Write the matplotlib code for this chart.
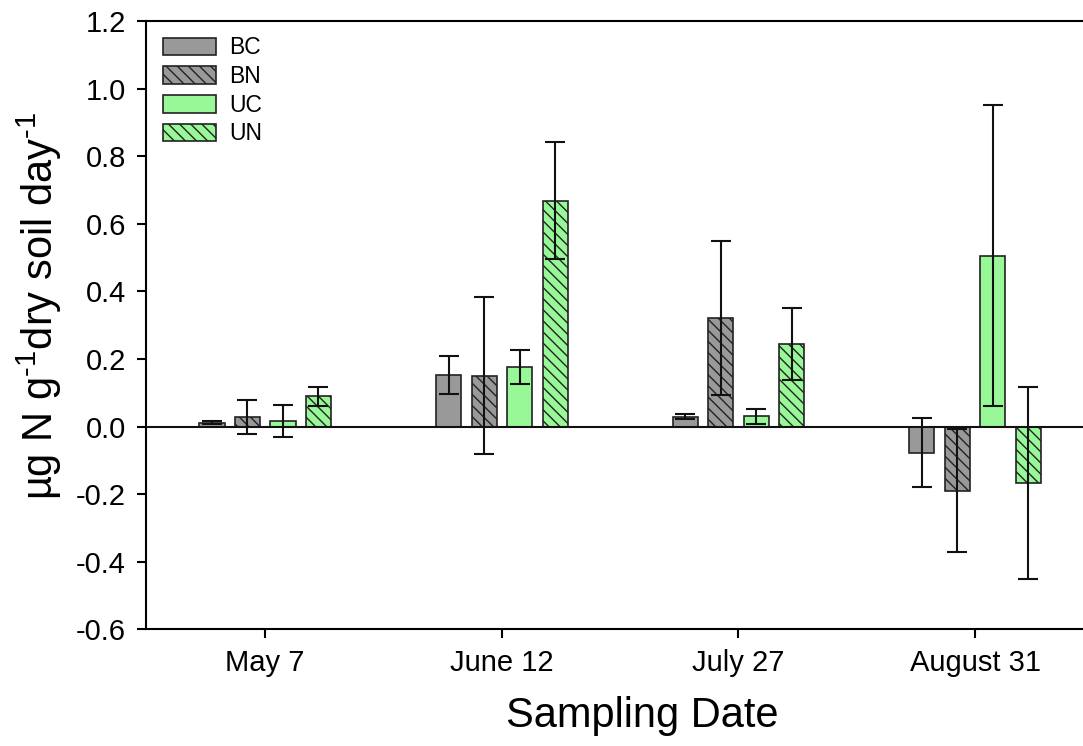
import numpy as np
import matplotlib
matplotlib.use("Agg")
import matplotlib.pyplot as plt
from matplotlib.ticker import FormatStrFormatter

# mean rates and standard errors per sampling date
dates = ["May 7", "June 12", "July 27", "August 31"]
treatments = ["BC", "BN", "UC", "UN"]
bc = [0.012, 0.153, 0.029, -0.077]
bn = [0.029, 0.151, 0.321, -0.190]
uc = [0.017, 0.176, 0.030, 0.506]
un = [0.090, 0.668, 0.245, -0.167]
bc_err = [0.004, 0.057, 0.007, 0.102]
bn_err = [0.050, 0.233, 0.229, 0.182]
uc_err = [0.047, 0.050, 0.021, 0.445]
un_err = [0.028, 0.173, 0.106, 0.283]

plt.rcParams['font.family'] = ['Liberation Sans', 'DejaVu Sans']
plt.rcParams['mathtext.fontset'] = 'custom'
plt.rcParams['mathtext.rm'] = 'Liberation Sans'
plt.rcParams['axes.unicode_minus'] = False
plt.rcParams['hatch.linewidth'] = 1.0
plt.rcParams['hatch.color'] = '#222222'

fig = plt.figure(figsize=(10.83, 7.46), dpi=100)
ax = fig.add_axes([0.1348, 0.1564, 0.8652, 0.8154])

gray = '#999999'
green = '#98f898'
styles = [(gray, None), (gray, '\\' * 3), (green, None), (green, '\\' * 3)]
series = [bc, bn, uc, un]
errs = [bc_err, bn_err, uc_err, un_err]

x = np.arange(len(dates))
step = 0.15
width = 0.106
for i, (vals, err, (col, hatch), name) in enumerate(zip(series, errs, styles, treatments)):
    pos = x + (i - 1.5) * step
    ax.bar(pos, vals, width, color=col, edgecolor='#222222', linewidth=1.2,
           hatch=hatch, label=name, zorder=2)
    ax.errorbar(pos, vals, yerr=err, fmt='none', ecolor='#111111',
                elinewidth=1.5, capsize=7, capthick=1.5, zorder=3)

ax.axhline(0, color='#111111', linewidth=1.5, zorder=4)

ax.set_xlim(-0.504, 3.456)
ax.set_ylim(-0.6, 1.2)
ax.set_yticks(np.arange(-0.6, 1.21, 0.2))
ax.yaxis.set_major_formatter(FormatStrFormatter('%.1f'))
ax.set_xticks(x)
ax.set_xticklabels(dates)
ax.tick_params(axis='both', direction='out', length=6.5, width=1.5,
               labelsize=21, pad=8)
for side in ['left', 'top', 'bottom']:
    ax.spines[side].set_linewidth(1.5)
ax.spines['right'].set_visible(False)

ax.set_xlabel('Sampling Date', fontsize=30)
ax.xaxis.set_label_coords(0.530, -0.110)
ax.set_ylabel(r'µg N g$^{\text{-1}}$dry soil day$^{\text{-1}}$', fontsize=30)
ax.yaxis.set_label_coords(-0.088, 0.531)

ax.legend(loc='upper left', bbox_to_anchor=(0.018, 0.975), frameon=False,
          fontsize=16.5, handlelength=2.3, handleheight=0.8, labelspacing=0.25,
          handletextpad=0.6, borderpad=0, borderaxespad=0)

fig.savefig('out.png', dpi=100)
